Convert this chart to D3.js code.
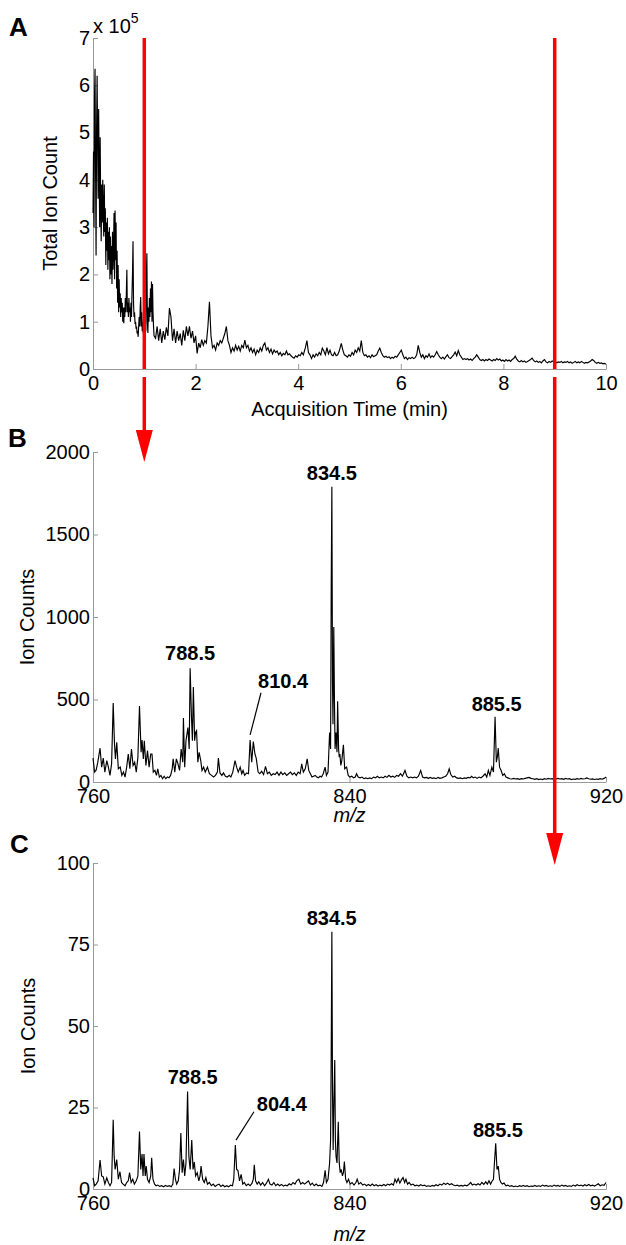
<!DOCTYPE html>
<html>
<head>
<meta charset="utf-8">
<style>
  body { margin: 0; padding: 0; background: #fff; }
  svg { display: block; font-family: "Liberation Sans", Arial, sans-serif; }
  .axis path, .axis line { stroke: #999; }
  .axis text { fill: #000; font-size: 20px; font-family: "Liberation Sans", Arial, sans-serif; }
</style>
<script src="https://cdn.jsdelivr.net/npm/d3@7/dist/d3.min.js"></script>
</head>
<body>
<svg width="626" height="1245"></svg>
<script>
// Panel A: total ion chromatogram, [time (min), count (x 10^5)]
const ticTrace = [
  [0.00,3.3],[0.01,4.6],[0.02,3.0],[0.03,5.8],[0.04,6.35],[0.05,4.2],[0.06,2.4],[0.07,5.1],[0.08,6.2],[0.09,4.8],
  [0.10,3.6],[0.11,5.5],[0.12,4.2],[0.13,3.0],[0.14,4.9],[0.15,3.4],[0.16,2.7],[0.17,3.9],[0.18,3.1],[0.19,4.0],
  [0.20,3.3],[0.21,2.8],[0.22,3.9],[0.23,2.9],[0.24,3.4],[0.25,2.2],[0.26,3.1],[0.27,2.5],[0.28,3.2],[0.29,2.1],
  [0.30,2.9],[0.31,2.3],[0.32,3.0],[0.33,1.9],[0.34,2.8],[0.35,2.0],[0.36,2.6],[0.37,1.8],[0.38,2.9],[0.39,2.1],
  [0.40,2.5],[0.41,3.3],[0.42,1.9],[0.43,3.35],[0.44,2.3],[0.45,3.1],[0.46,1.7],[0.47,2.5],[0.48,1.4],[0.49,2.2],
  [0.50,1.2],[0.51,1.9],[0.52,1.3],[0.53,1.6],[0.54,1.1],[0.55,1.5],[0.56,1.2],[0.57,1.4],[0.58,1.0],[0.59,1.3],
  [0.60,0.97],[0.61,1.3],[0.62,1.1],[0.63,1.5],[0.64,1.2],[0.65,1.6],[0.66,2.1],[0.67,1.2],[0.68,1.4],[0.69,1.1],
  [0.70,1.5],[0.71,1.2],[0.72,1.3],[0.73,1.0],[0.74,1.4],[0.75,1.1],[0.76,1.6],[0.77,2.0],[0.78,2.7],[0.79,1.4],
  [0.80,1.1],[0.81,1.2],[0.82,0.95],[0.83,1.0],[0.84,0.85],[0.85,0.9],[0.86,0.75],[0.87,0.8],[0.88,0.68],[0.89,0.9],
  [0.90,1.1],[0.91,0.9],[0.92,1.3],[0.93,1.52],[0.94,0.9],[0.95,1.2],[0.96,0.8],[0.97,1.0],[0.98,0.75],[0.99,1.4],
  [1.00,0.9],[1.01,1.1],[1.02,1.6],[1.03,0.8],[1.04,1.9],[1.05,2.45],[1.06,1.0],[1.07,0.76],[1.08,1.3],[1.09,1.0],
  [1.10,1.5],[1.11,1.1],[1.12,1.7],[1.13,1.2],[1.14,1.85],[1.15,1.0],[1.16,1.8],[1.17,1.2],[1.18,0.9],[1.19,0.7],
  [1.22,0.65],[1.25,0.9],[1.28,0.6],[1.31,0.85],[1.34,0.55],[1.37,0.8],[1.40,0.62],[1.43,0.88],[1.46,0.7],[1.49,1.29],
  [1.52,1.1],[1.55,0.6],[1.58,0.85],[1.61,0.55],[1.64,0.8],[1.67,0.6],[1.70,0.75],[1.73,0.5],[1.76,0.82],[1.79,0.6],
  [1.82,0.9],[1.85,0.7],[1.88,0.9],[1.91,0.65],[1.94,0.8],[1.97,0.55],[2.00,0.7],[2.03,0.33],[2.06,0.55],[2.09,0.45],
  [2.12,0.62],[2.15,0.5],[2.18,0.6],[2.21,0.55],[2.24,0.9],[2.27,1.42],[2.30,0.7],[2.33,0.45],[2.36,0.5],[2.39,0.4],
  [2.42,0.55],[2.45,0.5],[2.48,0.6],[2.51,0.55],[2.54,0.65],[2.57,0.75],[2.60,0.9],[2.63,0.6],[2.66,0.5],[2.69,0.35],
  [2.72,0.45],[2.75,0.38],[2.78,0.5],[2.81,0.4],[2.84,0.48],[2.87,0.38],[2.90,0.5],[2.93,0.45],[2.96,0.61],[2.99,0.45],
  [3.02,0.5],[3.05,0.38],[3.08,0.45],[3.11,0.35],[3.14,0.42],[3.17,0.3],[3.20,0.4],[3.23,0.35],[3.26,0.45],[3.29,0.38],
  [3.32,0.5],[3.35,0.55],[3.38,0.4],[3.41,0.45],[3.44,0.35],[3.47,0.42],[3.50,0.32],[3.53,0.4],[3.56,0.35],[3.59,0.38],
  [3.62,0.3],[3.65,0.35],[3.68,0.28],[3.71,0.33],[3.74,0.3],[3.77,0.38],[3.80,0.3],[3.83,0.32],[3.86,0.28],[3.89,0.25],
  [3.92,0.23],[3.95,0.28],[3.98,0.25],[4.01,0.3],[4.04,0.28],[4.07,0.35],[4.10,0.3],[4.14,0.45],[4.17,0.6],[4.20,0.35],
  [4.23,0.3],[4.26,0.22],[4.29,0.3],[4.32,0.25],[4.35,0.32],[4.38,0.28],[4.41,0.35],[4.44,0.3],[4.47,0.44],[4.50,0.38],
  [4.53,0.3],[4.56,0.45],[4.59,0.32],[4.62,0.4],[4.65,0.3],[4.68,0.28],[4.71,0.35],[4.74,0.28],[4.77,0.3],[4.80,0.38],
  [4.84,0.54],[4.87,0.4],[4.90,0.3],[4.93,0.28],[4.96,0.25],[4.99,0.3],[5.02,0.27],[5.05,0.35],[5.08,0.3],[5.11,0.4],
  [5.14,0.35],[5.17,0.45],[5.20,0.38],[5.23,0.6],[5.26,0.35],[5.29,0.28],[5.32,0.3],[5.35,0.25],[5.38,0.28],[5.41,0.24],
  [5.44,0.3],[5.47,0.26],[5.50,0.28],[5.53,0.3],[5.56,0.38],[5.59,0.44],[5.62,0.35],[5.65,0.28],[5.68,0.25],[5.71,0.27],
  [5.74,0.24],[5.77,0.26],[5.80,0.22],[5.83,0.25],[5.86,0.23],[5.89,0.27],[5.92,0.25],[5.95,0.3],[5.98,0.35],[6.01,0.4],
  [6.04,0.3],[6.07,0.22],[6.10,0.25],[6.13,0.2],[6.16,0.24],[6.19,0.22],[6.22,0.25],[6.25,0.22],[6.28,0.24],[6.31,0.3],
  [6.34,0.5],[6.37,0.35],[6.40,0.25],[6.43,0.3],[6.46,0.22],[6.49,0.28],[6.52,0.25],[6.55,0.32],[6.58,0.24],[6.61,0.28],
  [6.64,0.25],[6.67,0.3],[6.70,0.37],[6.73,0.3],[6.76,0.25],[6.79,0.22],[6.82,0.25],[6.85,0.21],[6.88,0.26],[6.91,0.3],
  [6.94,0.24],[6.97,0.22],[7.00,0.26],[7.03,0.3],[7.06,0.36],[7.09,0.28],[7.12,0.39],[7.15,0.3],[7.18,0.25],[7.21,0.2],
  [7.24,0.22],[7.27,0.2],[7.30,0.22],[7.33,0.19],[7.36,0.21],[7.39,0.18],[7.42,0.22],[7.45,0.25],[7.48,0.3],[7.51,0.25],
  [7.54,0.2],[7.57,0.18],[7.60,0.2],[7.63,0.17],[7.66,0.2],[7.69,0.18],[7.72,0.21],[7.75,0.19],[7.78,0.17],[7.81,0.2],
  [7.84,0.18],[7.87,0.22],[7.90,0.19],[7.93,0.21],[7.96,0.17],[7.99,0.19],[8.02,0.16],[8.05,0.2],[8.08,0.17],[8.11,0.19],
  [8.14,0.16],[8.17,0.2],[8.20,0.22],[8.23,0.27],[8.26,0.21],[8.29,0.17],[8.32,0.15],[8.35,0.18],[8.38,0.15],[8.41,0.17],
  [8.44,0.14],[8.47,0.16],[8.50,0.18],[8.53,0.2],[8.56,0.23],[8.59,0.18],[8.62,0.15],[8.65,0.17],[8.68,0.14],[8.71,0.16],
  [8.74,0.13],[8.77,0.17],[8.80,0.2],[8.83,0.15],[8.86,0.13],[8.89,0.16],[8.92,0.14],[8.95,0.17],[8.98,0.15],[9.01,0.16],
  [9.04,0.13],[9.07,0.15],[9.10,0.14],[9.13,0.16],[9.16,0.13],[9.19,0.15],[9.22,0.14],[9.25,0.16],[9.28,0.13],[9.31,0.15],
  [9.34,0.12],[9.37,0.14],[9.40,0.16],[9.43,0.13],[9.46,0.15],[9.49,0.13],[9.52,0.16],[9.55,0.14],[9.58,0.12],[9.61,0.14],
  [9.64,0.13],[9.67,0.15],[9.70,0.17],[9.73,0.2],[9.76,0.18],[9.79,0.14],[9.82,0.12],[9.85,0.14],[9.88,0.12],[9.91,0.13],
  [9.94,0.11],[9.97,0.12],[10.00,0.1]
];

// Panel B: mass spectrum at 1 min, [m/z, ion counts]
const spectrumB = [
  [760.0,145],[760.5,60],[761.0,73],[761.5,120],[762.2,205],[762.7,90],[763.2,145],[763.7,60],[764.3,130],[764.8,90],
  [765.3,40],[765.8,110],[766.3,478],[766.7,230],[767.0,140],[767.4,240],[767.9,80],[768.5,90],[769.0,40],[769.5,60],
  [770.0,30],[770.5,90],[771.0,170],[771.5,80],[772.0,200],[772.5,100],[773.0,120],[773.5,60],[774.0,150],[774.5,460],
  [775.0,180],[775.3,255],[775.7,140],[776.0,250],[776.5,100],[777.0,190],[777.5,90],[778.0,170],[778.4,170],[778.8,60],
  [779.3,70],[779.8,40],[780.2,80],[780.7,30],[781.2,40],[781.7,20],[782.2,35],[782.7,20],[783.2,30],[783.7,25],
  [784.2,40],[784.7,80],[785.0,140],[785.5,60],[786.0,140],[786.5,110],[787.0,70],[787.5,200],[788.0,120],[788.2,388],
  [788.6,90],[789.0,250],[789.6,330],[790.0,200],[790.3,690],[790.7,400],[791.0,250],[791.3,575],[791.7,250],[792.0,300],
  [792.3,310],[792.7,120],[793.1,180],[793.6,130],[794.0,70],[794.5,90],[795.0,60],[795.7,90],[796.3,50],[797.0,40],
  [797.6,30],[798.2,40],[798.8,60],[799.1,145],[799.6,55],[800.2,40],[800.7,55],[801.3,35],[801.9,30],[802.5,40],
  [803.0,30],[803.6,60],[804.3,130],[804.8,90],[805.3,60],[805.9,90],[806.4,50],[806.8,70],[807.3,40],[807.9,55],
  [808.5,50],[809.0,255],[809.5,120],[810.0,245],[810.5,170],[810.9,145],[811.5,60],[812.0,50],[812.6,65],[813.2,45],
  [813.8,95],[814.4,50],[815.0,60],[815.6,40],[816.2,50],[816.8,45],[817.4,60],[818.0,40],[818.6,60],[819.2,45],
  [819.8,55],[820.4,40],[821.0,50],[821.6,60],[822.2,45],[822.8,55],[823.4,40],[824.0,60],[824.6,50],[825.1,110],
  [825.6,60],[826.2,80],[826.8,140],[827.3,70],[827.8,50],[828.3,30],[828.8,35],[829.3,40],[829.8,30],[830.3,25],
  [830.8,35],[831.3,30],[831.8,50],[832.4,90],[832.8,40],[833.3,60],[833.8,300],[834.1,200],[834.3,1200],[834.5,1790],
  [834.7,600],[834.85,350],[835.1,940],[835.3,500],[835.5,200],[835.8,300],[836.1,180],[836.3,490],[836.6,200],[836.8,150],
  [837.0,170],[837.3,100],[837.6,130],[838.1,225],[838.5,80],[839.1,90],[839.6,40],[840.1,30],[840.7,35],[841.3,25],
  [841.8,30],[842.2,50],[842.7,30],[843.3,25],[843.9,30],[844.5,20],[845.1,25],[845.7,20],[846.3,25],[846.9,20],
  [847.5,30],[848.1,25],[848.7,35],[849.3,25],[849.9,30],[850.5,25],[851.1,35],[851.7,28],[852.3,40],[852.9,30],
  [853.5,35],[854.1,28],[854.7,40],[855.3,35],[855.9,50],[856.5,35],[857.3,70],[857.9,35],[858.5,25],[859.1,30],
  [859.7,25],[860.3,30],[860.9,25],[861.5,35],[862.2,70],[862.8,30],[863.4,25],[864.0,28],[864.6,22],[865.2,28],
  [865.8,22],[866.4,25],[867.0,20],[867.6,28],[868.2,22],[868.8,25],[869.4,30],[870.0,35],[870.6,50],[871.1,80],
  [871.6,45],[872.2,30],[872.8,35],[873.4,25],[874.0,22],[874.6,25],[875.2,20],[875.8,25],[876.4,22],[877.0,28],
  [877.6,25],[878.1,35],[878.6,25],[879.2,30],[879.8,22],[880.4,30],[881.0,25],[881.6,35],[882.3,50],[882.8,30],
  [883.3,70],[883.8,40],[884.4,90],[884.9,60],[885.4,396],[885.8,120],[886.1,150],[886.4,205],[886.8,90],[887.3,70],
  [887.8,40],[888.3,50],[888.8,30],[889.4,25],[890.0,20],[890.6,18],[891.2,22],[891.8,18],[892.4,20],[893.0,16],
  [893.6,20],[894.2,18],[894.8,22],[895.4,25],[896.0,28],[896.6,22],[897.2,20],[897.8,16],[898.4,20],[899.0,15],
  [899.6,18],[900.2,15],[900.8,20],[901.4,17],[902.0,22],[902.6,18],[903.2,20],[903.8,15],[904.4,18],[905.0,22],
  [905.6,18],[906.2,20],[906.8,16],[907.4,22],[908.0,18],[908.6,20],[909.2,15],[909.8,18],[910.4,16],[911.0,20],
  [911.6,17],[912.2,22],[912.8,18],[913.4,20],[914.0,25],[914.6,20],[915.2,17],[915.8,19],[916.4,15],[917.0,18],
  [917.6,16],[918.2,20],[918.8,17],[919.4,22],[920.0,30]
];

// Panel C: mass spectrum at 9 min, [m/z, ion counts]
const spectrumC = [
  [760.0,3.4],[760.5,1],[761.0,1.5],[761.6,2.5],[762.2,8.9],[762.7,4],[763.2,3.7],[763.7,1.5],[764.3,3.4],[764.8,2],
  [765.3,1],[765.8,2],[766.3,21.2],[766.6,10],[766.9,6],[767.4,9],[767.9,3],[768.4,5.3],[768.9,2],[769.4,1.5],
  [770.0,1],[770.5,2],[771.0,2.5],[771.4,5],[771.9,2],[772.4,3],[772.9,1.5],[773.5,2.5],[774.0,4],[774.5,17.6],
  [774.9,6],[775.3,10.7],[775.6,4],[775.9,10.7],[776.3,4],[776.6,7],[777.0,3],[777.5,2],[778.0,4],[778.3,9.6],
  [778.7,3],[779.2,1.5],[779.7,1],[780.2,1.2],[780.8,0.8],[781.4,1],[782.0,0.7],[782.6,1.1],[783.2,0.8],[783.8,1],
  [784.4,0.7],[784.9,1.5],[785.3,6.3],[785.7,3],[786.1,1.5],[786.6,2.5],[787.0,6],[787.4,17.2],[787.8,5],[788.2,9],
  [788.6,4],[789.0,8],[789.5,29.9],[789.9,10],[790.3,6],[790.8,15],[791.2,6],[791.6,8.3],[792.0,4],[792.5,5],
  [793.0,2.5],[793.4,4],[793.7,7],[794.2,3],[794.7,2],[795.2,3.5],[795.7,1.5],[796.3,2],[796.9,1],[797.5,1.5],
  [798.1,0.8],[798.7,1.2],[799.3,1.5],[799.9,0.8],[800.5,1.2],[801.1,0.7],[801.7,1.0],[802.3,0.7],[802.9,1.2],[803.5,1.0],
  [803.9,3],[804.4,13.5],[804.8,6],[805.2,5.7],[805.7,2.5],[806.2,4.5],[806.7,1.5],[807.2,2],[807.8,1],[808.4,1.5],
  [809.0,1],[809.6,1.8],[810.0,3],[810.3,7.4],[810.7,2.5],[811.2,1.5],[811.7,2.2],[812.3,1.2],[812.9,2],[813.5,1],
  [814.1,1.8],[814.7,3],[815.2,1.5],[815.8,1.2],[816.4,2],[817.0,1],[817.6,1.5],[818.2,1],[818.8,1.4],[819.4,0.9],
  [820.0,1.2],[820.6,1],[821.2,1.6],[821.8,1.2],[822.4,2],[823.0,1.5],[823.6,2.6],[824.2,3],[824.8,1.5],[825.4,2],
  [826.0,1.5],[826.6,2],[827.2,2.5],[827.8,1.2],[828.4,1.8],[829.0,1],[829.6,1.5],[830.2,1],[830.8,1.2],[831.4,0.8],
  [831.9,2],[832.4,5.7],[832.8,2],[833.3,3],[833.8,8],[834.1,15],[834.3,42.6],[834.5,78.9],[834.7,30],[834.9,12],
  [835.1,25],[835.4,39.6],[835.6,15],[835.8,10],[836.1,8],[836.5,20.6],[836.8,8],[837.1,5],[837.4,6],[837.8,4],
  [838.1,5],[838.4,8.4],[838.8,3],[839.2,2],[839.7,3],[840.2,1.5],[840.8,2],[841.4,1.2],[842.0,2],[842.4,3],
  [842.9,1.5],[843.5,2],[844.1,1.2],[844.7,1.5],[845.3,1],[845.9,1.4],[846.5,1],[847.1,1.5],[847.7,1],[848.3,1.3],
  [848.9,0.9],[849.5,1.2],[850.1,1],[850.7,1.4],[851.3,1],[851.9,1.5],[852.5,1.2],[853.1,1.6],[853.7,1.2],[854.2,3],
  [854.7,2],[855.2,3.2],[855.7,1.8],[856.2,2.8],[856.7,3.5],[857.2,2],[857.6,3],[858.1,1.5],[858.6,2],[859.2,1.2],
  [859.8,1.5],[860.4,1],[861.0,1.2],[861.6,0.9],[862.2,1.3],[862.8,1],[863.4,1.2],[864.0,0.8],[864.6,1],[865.2,0.8],
  [865.8,1.1],[866.4,0.9],[867.0,1.3],[867.6,1],[868.2,1.5],[868.8,1.2],[869.4,1.8],[870.0,1.4],[870.6,1.8],[871.2,1.3],
  [871.8,1.6],[872.4,1.2],[873.0,1],[873.6,1.2],[874.2,0.9],[874.8,1.1],[875.4,0.9],[876.0,1.2],[876.6,1],[877.2,1.4],
  [877.8,2],[878.3,1.2],[878.9,1.5],[879.5,1.2],[880.1,1.6],[880.7,1.2],[881.3,2],[881.9,1.4],[882.5,2.2],[883.0,1.5],
  [883.5,2.5],[884.0,1.5],[884.4,2.3],[884.9,3],[885.2,8],[885.6,14],[886.0,6],[886.4,7],[886.8,3],[887.2,2],
  [887.7,1.5],[888.2,1.8],[888.8,1],[889.4,1.2],[890.0,0.8],[890.6,1],[891.2,0.7],[891.8,0.9],[892.4,0.7],[893.0,1],
  [893.6,0.8],[894.2,1.1],[894.8,0.8],[895.4,1],[896.0,0.7],[896.6,0.9],[897.2,0.8],[897.8,1.1],[898.4,0.8],[899.0,1],
  [899.6,0.8],[900.2,1.2],[900.8,0.9],[901.4,1.1],[902.0,0.8],[902.6,1],[903.2,0.8],[903.8,1.2],[904.4,0.9],[905.0,1.1],
  [905.6,0.8],[906.2,1.2],[906.8,0.9],[907.4,1.1],[908.0,0.8],[908.6,1],[909.2,0.8],[909.8,1.2],[910.4,0.9],[911.0,1.3],
  [911.6,1],[912.2,1.2],[912.8,0.9],[913.4,1.3],[914.0,1],[914.6,1.4],[915.2,1],[915.8,1.2],[916.4,0.9],[917.0,1.2],
  [917.6,1.6],[918.2,1],[918.8,1.3],[919.4,1.1],[920.0,2]
];

// tick values
const ticksTimeX = [0, 2, 4, 6, 8, 10];
const ticksTicY = [0, 1, 2, 3, 4, 5, 6, 7];
const ticksMz = [760, 840, 920];
const ticksB = [0, 500, 1000, 1500, 2000];
const ticksC = [0, 25, 50, 75, 100];

// acquisition times where spectra B and C were taken
const markTimes = [1, 9];

// peak labels: text, anchor [m/z, count], optional leader line
const labelsB = [
  {text: '788.5', at: [790.3, 740]},
  {text: '810.4', at: [819.3, 570], leader: [[812.4, 541], [809.0, 285]]},
  {text: '834.5', at: [834.5, 1830]},
  {text: '885.5', at: [885.9, 432]}
];
const labelsC = [
  {text: '788.5', at: [791.1, 32.2]},
  {text: '804.4', at: [818.9, 24], leader: [[810.2, 23.7], [804.6, 15]]},
  {text: '834.5', at: [834.45, 81]},
  {text: '885.5', at: [886.3, 16]}
];

const svg = d3.select('svg');
svg.append('rect').attr('width', 626).attr('height', 1245).attr('fill', '#fff');

const left = 93, right = 606;

// scales
const xA = d3.scaleLinear().domain([0, 10]).range([left, right]);
const yA = d3.scaleLinear().domain([0, 7]).range([369, 38]);
const xMz = d3.scaleLinear().domain([760, 920]).range([left, right]);
const yB = d3.scaleLinear().domain([0, 2000]).range([782, 452]);
const yC = d3.scaleLinear().domain([0, 100]).range([1189, 863]);

function drawAxes(x, y, xt, yt) {
  svg.append('g').attr('class', 'axis')
    .attr('transform', `translate(0,${y.range()[0]})`)
    .call(d3.axisBottom(x).tickValues(xt).tickSizeInner(-5).tickSizeOuter(0).tickPadding(7).tickFormat(d3.format('d')))
    .call(g => g.selectAll('text').attr('font-size', 20));
  svg.append('g').attr('class', 'axis')
    .attr('transform', `translate(${x.range()[0]},0)`)
    .call(d3.axisLeft(y).tickValues(yt).tickSizeInner(-5).tickSizeOuter(0).tickPadding(3).tickFormat(d3.format('d')))
    .call(g => g.selectAll('text').attr('font-size', 20));
}

function drawTrace(data, x, y) {
  svg.append('path')
    .datum(data)
    .attr('fill', 'none')
    .attr('stroke', '#000')
    .attr('stroke-width', 1.15)
    .attr('stroke-linejoin', 'miter')
    .attr('d', d3.line().x(d => x(d[0])).y(d => y(d[1])));
}

function drawLabels(labels, x, y) {
  labels.forEach(l => {
    svg.append('text')
      .attr('x', x(l.at[0])).attr('y', y(l.at[1]))
      .attr('text-anchor', 'middle')
      .attr('font-size', 20).attr('font-weight', 'bold')
      .text(l.text);
    if (l.leader) {
      svg.append('line')
        .attr('x1', x(l.leader[0][0])).attr('y1', y(l.leader[0][1]))
        .attr('x2', x(l.leader[1][0])).attr('y2', y(l.leader[1][1]))
        .attr('stroke', '#000').attr('stroke-width', 1.2);
    }
  });
}

function yLabel(text, x, y) {
  svg.append('text')
    .attr('transform', `translate(${x},${y}) rotate(-90)`)
    .attr('text-anchor', 'middle')
    .attr('font-size', 20)
    .text(text);
}

function panelLetter(text, x, y) {
  svg.append('text').attr('x', x).attr('y', y)
    .attr('font-size', 26).attr('font-weight', 'bold')
    .text(text);
}

// Panel A
drawAxes(xA, yA, ticksTimeX, ticksTicY);
drawTrace(ticTrace, xA, yA);
yLabel('Total Ion Count', 57, (yA.range()[0] + yA.range()[1]) / 2);
svg.append('text').attr('x', (left + right) / 2).attr('y', 416)
  .attr('text-anchor', 'middle').attr('font-size', 20)
  .text('Acquisition Time (min)');
const expo = svg.append('text').attr('x', left).attr('y', 33).attr('font-size', 20);
expo.append('tspan').text('x 10');
expo.append('tspan').attr('dy', -10).attr('font-size', 14).text('5');
panelLetter('A', 9, 36);

// Panel B
drawAxes(xMz, yB, ticksMz, ticksB);
drawTrace(spectrumB, xMz, yB);
yLabel('Ion Counts', 34, (yB.range()[0] + yB.range()[1]) / 2);
svg.append('text').attr('x', xMz(840)).attr('y', 822)
  .attr('text-anchor', 'middle').attr('font-size', 20).attr('font-style', 'italic')
  .text('m/z');
drawLabels(labelsB, xMz, yB);
panelLetter('B', 8, 447);

// Panel C
drawAxes(xMz, yC, ticksMz, ticksC);
drawTrace(spectrumC, xMz, yC);
yLabel('Ion Counts', 35, (yC.range()[0] + yC.range()[1]) / 2);
svg.append('text').attr('x', xMz(840)).attr('y', 1241)
  .attr('text-anchor', 'middle').attr('font-size', 20).attr('font-style', 'italic')
  .text('m/z');
drawLabels(labelsC, xMz, yC);
panelLetter('C', 10, 853);

// red arrows from the chromatogram down to the spectra
const arrowTips = [yB.range()[1] + 10, yC.range()[1] + 2];
markTimes.forEach((t, i) => {
  const x = xA(t);
  const tip = arrowTips[i];
  const red = '#ff0000';
  svg.append('line')
    .attr('x1', x).attr('y1', yA.range()[1])
    .attr('x2', x).attr('y2', yA.range()[0])
    .attr('stroke', red).attr('stroke-width', 3.5);
  svg.append('line')
    .attr('x1', x).attr('y1', yA.range()[0] + 8)
    .attr('x2', x).attr('y2', tip - 30)
    .attr('stroke', red).attr('stroke-width', 3.5);
  svg.append('path')
    .attr('d', `M${x - 8.5},${tip - 32} L${x + 8.5},${tip - 32} L${x},${tip} Z`)
    .attr('fill', red);
});
</script>
</body>
</html>
